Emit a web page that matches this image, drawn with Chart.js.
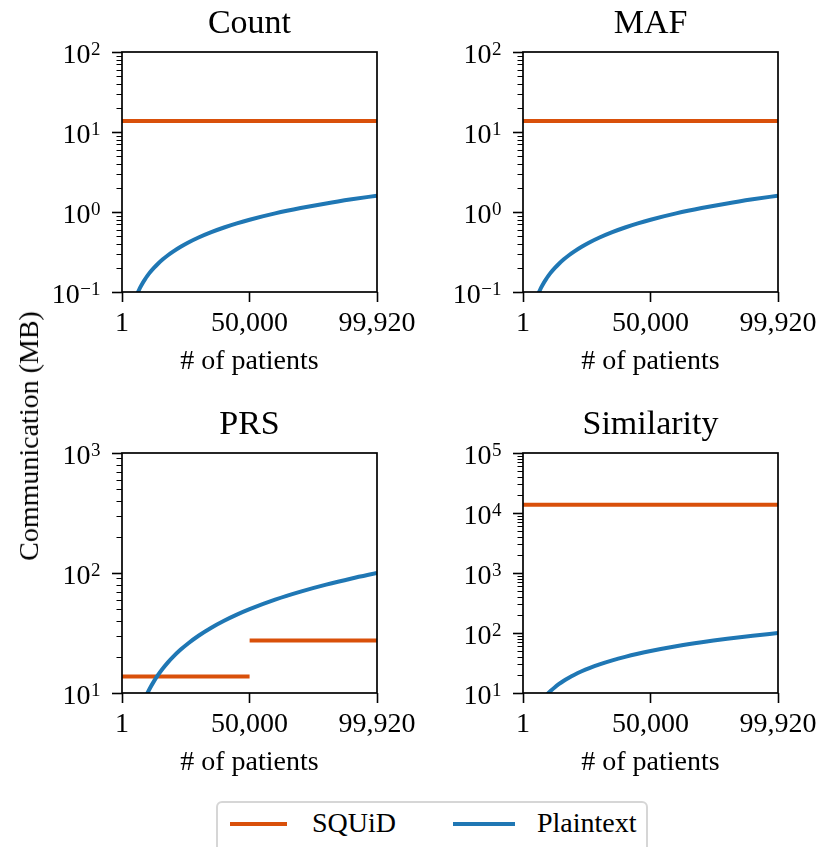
<!DOCTYPE html>
<html>
<head>
<meta charset="utf-8">
<script src="https://cdn.jsdelivr.net/npm/chart.js@4"></script>
<style>
  body { margin: 0; background: #fff; width: 820px; height: 847px; overflow: hidden; position: relative; font-family: "Liberation Serif", serif; }
  canvas.panel { position: absolute; left: 0; top: 0; }
  #ytitle { position: absolute; left: 29px; top: 436px; font-size: 28px; white-space: nowrap; transform: translate(-50%, -50%) rotate(-90deg); }
  #legend { position: absolute; left: 216px; top: 801px; width: 428px; height: 70px; border: 2px solid #d6d6d6; border-radius: 6px; background: #fff; box-sizing: content-box; }
  .lline { position: absolute; height: 4px; }
  .ltext { position: absolute; font-size: 28px; line-height: 28px; white-space: nowrap; }
</style>
</head>
<body>
<canvas class="panel" id="c0" width="820" height="847"></canvas>
<canvas class="panel" id="c1" width="820" height="847"></canvas>
<canvas class="panel" id="c2" width="820" height="847"></canvas>
<canvas class="panel" id="c3" width="820" height="847"></canvas>
<div id="ytitle">Communication (MB)</div>
<div id="legend"></div>
<script>
// number of patients (x) for the plaintext curves
const patients = [1, 5000, 6000, 7000, 8000, 9000, 10000, 11000, 12500, 14000, 16000, 18000,
  20000, 23000, 26000, 30000, 35000, 40000, 45000, 50000, 60000, 70000, 80000, 90000, 99920];

// Plaintext communication (MB)
const countPlainMB = [0.000016, 0.08, 0.096, 0.112, 0.128, 0.144, 0.16, 0.176, 0.2, 0.224, 0.256, 0.288,
  0.32, 0.368, 0.416, 0.48, 0.56, 0.64, 0.72, 0.8, 0.96, 1.12, 1.28, 1.44, 1.6];
const mafPlainMB = [0.000016, 0.08, 0.096, 0.112, 0.128, 0.144, 0.16, 0.176, 0.2, 0.224, 0.256, 0.288,
  0.32, 0.368, 0.416, 0.48, 0.56, 0.64, 0.72, 0.8, 0.96, 1.12, 1.28, 1.44, 1.6];
const prsPlainMB = [0.001, 5, 6, 7, 8, 9, 10, 11, 12.5, 14, 16, 18,
  20, 23, 26, 30, 35, 40, 45, 50, 60, 70, 80, 90, 100];
const simPlainMB = [0.001, 5, 6, 7, 8, 9, 10, 11, 12.5, 14, 16, 18,
  20, 23, 26, 30, 35, 40, 45, 50, 60, 70, 80, 90, 100];

// SQUiD communication (MB)
const squidPatients = [1, 99920];
const countSquidMB = [13.7, 13.7];
const mafSquidMB = [13.7, 13.7];
const prsSquidPatients = [1, 49990, 50000, 50010, 99920];
const prsSquidMB = [13.7, 13.7, null, 27.4, 27.4];
const simSquidMB = [13700, 13700];

// ticks
const xTickValues = [1, 50000, 99920];
const xTickLabels = ["1", "50,000", "99,920"];
const smallYTicks = [0.1, 1, 10, 100];
const smallYExps = ["\u22121", "0", "1", "2"];
const prsYTicks = [10, 100, 1000];
const prsYExps = ["1", "2", "3"];
const simYTicks = [10, 100, 1000, 10000, 100000];
const simYExps = ["1", "2", "3", "4", "5"];

const titles = ["Count", "MAF", "PRS", "Similarity"];
const seriesNames = ["SQUiD", "Plaintext"];

const ORANGE = "#d9500a";
const BLUE = "#1f77b4";
const FONT = "'Liberation Serif', 'Times New Roman', serif";

function pts(xs, ys) {
  return xs.map((x, i) => ({ x: x, y: ys[i] }));
}

const panels = [
  { id: "c0", title: titles[0], plain: countPlainMB, squidX: squidPatients, squid: countSquidMB,
    yMin: 0.1, yMax: 100, yTicks: smallYTicks, yExps: smallYExps, left: 122, right: 377, top: 52, bottom: 292 },
  { id: "c1", title: titles[1], plain: mafPlainMB, squidX: squidPatients, squid: mafSquidMB,
    yMin: 0.1, yMax: 100, yTicks: smallYTicks, yExps: smallYExps, left: 523, right: 778, top: 52, bottom: 292 },
  { id: "c2", title: titles[2], plain: prsPlainMB, squidX: prsSquidPatients, squid: prsSquidMB,
    yMin: 10, yMax: 1000, yTicks: prsYTicks, yExps: prsYExps, left: 122, right: 377, top: 453, bottom: 693 },
  { id: "c3", title: titles[3], plain: simPlainMB, squidX: squidPatients, squid: simSquidMB,
    yMin: 10, yMax: 100000, yTicks: simYTicks, yExps: simYExps, left: 523, right: 778, top: 453, bottom: 693 }
];

const Y_AXIS_W = 100;
const X_AXIS_H = 90;
const TITLE_SIZE = 34;

// full box, minor log ticks and 10^k labels, like matplotlib
const framePlugin = {
  id: "frame",
  afterDraw(chart, args, opts) {
    const ctx = chart.ctx;
    const a = chart.chartArea;
    const ys = chart.scales.y;
    ctx.save();
    ctx.strokeStyle = "#000";
    ctx.lineWidth = 1;
    const k0 = Math.floor(Math.log10(ys.min));
    const k1 = Math.ceil(Math.log10(ys.max));
    for (let k = k0; k < k1; k++) {
      for (let m = 2; m <= 9; m++) {
        const v = m * Math.pow(10, k);
        if (v <= ys.min || v >= ys.max) continue;
        const py = Math.round(ys.getPixelForValue(v)) + 0.5;
        ctx.beginPath();
        ctx.moveTo(a.left - 5.5, py);
        ctx.lineTo(a.left, py);
        ctx.stroke();
      }
    }
    ctx.lineWidth = 1.7;
    ctx.strokeRect(a.left, a.top, a.right - a.left, a.bottom - a.top);

    // y tick labels: "10" with a raised exponent
    ctx.fillStyle = "#000";
    ctx.textBaseline = "alphabetic";
    ctx.textAlign = "right";
    const xr = a.left - 21.5;
    opts.ticks.forEach((v, i) => {
      const py = ys.getPixelForValue(v);
      ctx.font = "19px " + FONT;
      const exp = opts.exps[i];
      const w = ctx.measureText(exp).width;
      ctx.fillText(exp, xr, py + 3);
      ctx.font = "28px " + FONT;
      ctx.fillText("10", xr - w - 0.5, py + 11);
    });
    ctx.restore();
  }
};

panels.forEach((p) => {
  const ctx = document.getElementById(p.id).getContext("2d");
  const titleTop = p.top - 48;
  new Chart(ctx, {
    type: "line",
    data: {
      datasets: [
        {
          label: seriesNames[0],
          data: pts(p.squidX, p.squid),
          borderColor: ORANGE,
          borderWidth: 4,
          pointRadius: 0,
          spanGaps: false,
          order: 2
        },
        {
          label: seriesNames[1],
          data: pts(patients, p.plain),
          borderColor: BLUE,
          borderWidth: 4,
          pointRadius: 0,
          cubicInterpolationMode: "monotone",
          order: 1
        }
      ]
    },
    options: {
      responsive: false,
      animation: false,
      devicePixelRatio: 1,
      events: [],
      layout: {
        padding: {
          left: p.left - Y_AXIS_W,
          right: 820 - p.right,
          top: titleTop,
          bottom: 847 - p.bottom - X_AXIS_H
        }
      },
      plugins: {
        legend: { display: false },
        tooltip: { enabled: false },
        title: {
          display: true,
          text: p.title,
          fullSize: false,
          color: "#000",
          font: { family: FONT, size: TITLE_SIZE, weight: "normal" },
          padding: { top: 0, bottom: 48 - TITLE_SIZE * 1.2 }
        },
        frame: { ticks: p.yTicks, exps: p.yExps }
      },
      scales: {
        x: {
          type: "linear",
          min: 1,
          max: 99920,
          afterBuildTicks: (scale) => {
            scale.ticks = xTickValues.map((v) => ({ value: v }));
          },
          afterFit: (scale) => {
            scale.height = X_AXIS_H;
            scale.paddingLeft = 0;
            scale.paddingRight = 0;
          },
          ticks: {
            color: "#000",
            maxRotation: 0,
            autoSkip: false,
            padding: 5,
            font: { family: FONT, size: 28 },
            callback: (v) => xTickLabels[xTickValues.indexOf(v)]
          },
          grid: {
            drawOnChartArea: false,
            tickLength: 10,
            tickWidth: 1.6,
            tickColor: "#000"
          },
          border: { display: false },
          title: {
            display: true,
            text: "# of patients",
            color: "#000",
            font: { family: FONT, size: 28 },
            padding: { top: 0, bottom: 4 }
          }
        },
        y: {
          type: "logarithmic",
          min: p.yMin,
          max: p.yMax,
          afterBuildTicks: (scale) => {
            scale.ticks = p.yTicks.map((v) => ({ value: v }));
          },
          afterFit: (scale) => {
            scale.width = Y_AXIS_W;
            scale.paddingTop = 0;
            scale.paddingBottom = 0;
          },
          ticks: {
            autoSkip: false,
            padding: 12,
            font: { family: FONT, size: 28 },
            callback: () => ""
          },
          grid: {
            drawOnChartArea: false,
            tickLength: 10,
            tickWidth: 1.6,
            tickColor: "#000"
          },
          border: { display: false }
        }
      }
    },
    plugins: [framePlugin]
  });
});

// legend below the panels
const legend = document.getElementById("legend");
const legendItems = [
  { name: seriesNames[0], color: ORANGE, lx: 12, lw: 57, tx: 94 },
  { name: seriesNames[1], color: BLUE, lx: 235, lw: 62, tx: 319 }
];
legendItems.forEach((it) => {
  const line = document.createElement("div");
  line.className = "lline";
  line.style.left = it.lx + "px";
  line.style.top = "18.5px";
  line.style.width = it.lw + "px";
  line.style.background = it.color;
  legend.appendChild(line);
  const t = document.createElement("div");
  t.className = "ltext";
  t.style.left = it.tx + "px";
  t.style.top = "6px";
  t.textContent = it.name;
  legend.appendChild(t);
});
</script>
</body>
</html>
